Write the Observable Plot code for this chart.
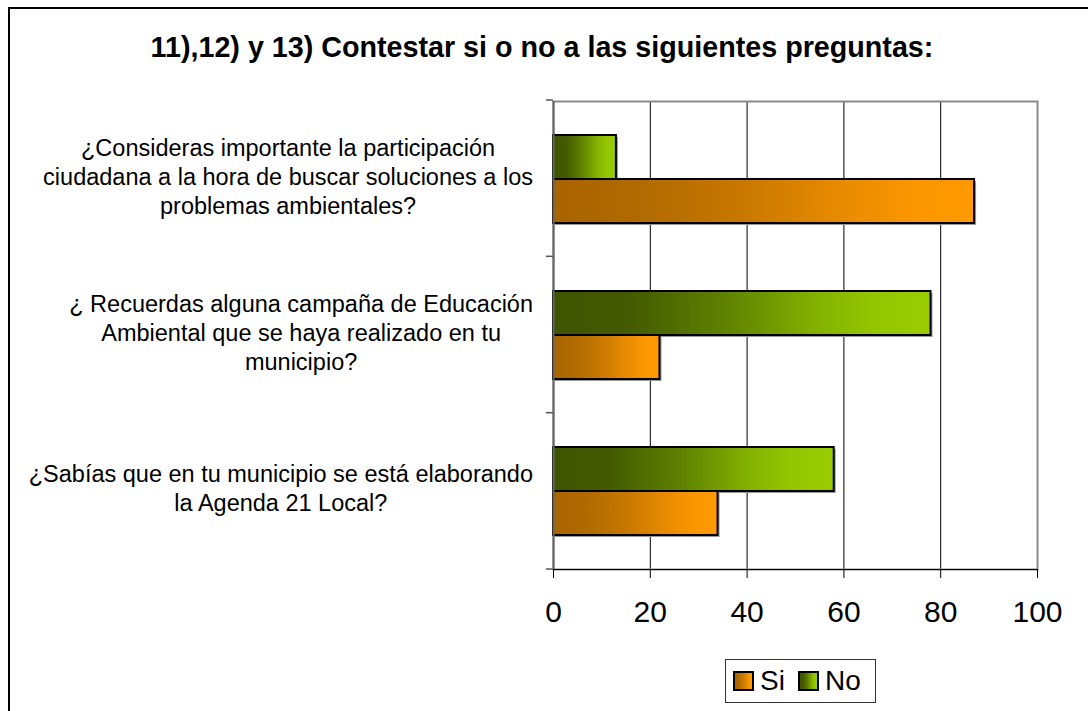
<!DOCTYPE html>
<html>
<head>
<meta charset="utf-8">
<script src="https://cdn.jsdelivr.net/npm/d3@7"></script>
<script src="https://cdn.jsdelivr.net/npm/@observablehq/plot@0.6"></script>
<style>
  body { margin: 0; background: #fff; font-family: "Liberation Sans", Arial, sans-serif; }
  #wrap { position: relative; width: 1088px; height: 711px; overflow: hidden; }
  #border { position: absolute; left: 8px; top: 7px; width: 1100px; height: 720px; border: 2px solid #000; box-sizing: border-box; }
  #title { position: absolute; left: 6px; width: 1072px; top: 31px; line-height: 32px; text-align: center; font-weight: bold; font-size: 28.7px; color: #000; }
  #chart { position: absolute; left: 0; top: 0; }
  #legend { position: absolute; left: 725px; top: 659px; width: 151px; height: 44px; border: 1px solid #333; box-sizing: border-box; display: flex; align-items: center; font-size: 28px; background: #fff; }
  .sw { width: 21px; height: 20px; border: 2px solid #000; box-sizing: border-box; }
</style>
</head>
<body>
<div id="wrap">
  <div id="border"></div>
  <div id="title">11),12) y 13) Contestar si o no a las siguientes preguntas:</div>
  <div id="chart"></div>
  <div id="legend"></div>
</div>
<script>
// ---- data ----
const questions = [
  "¿Consideras importante la participación\nciudadana a la hora de buscar soluciones a los\nproblemas ambientales?",
  "¿ Recuerdas alguna campaña de Educación\nAmbiental que se haya realizado en tu\nmunicipio?",
  "¿Sabías que en tu municipio se está elaborando\nla Agenda 21 Local?"
];
const series = ["No", "Si"];
const legendOrder = ["Si", "No"];
const siValues = [87, 22, 34];
const noValues = [13, 78, 58];
const xTicks = [0, 20, 40, 60, 80, 100];
const gridTicks = [20, 40, 60, 80];

const data = questions.flatMap((q, i) => [
  {q, s: "No", v: noValues[i]},
  {q, s: "Si", v: siValues[i]}
]);

// ---- styles ----
const gradients = {
  Si: [[0, "#A86400"], [0.2, "#B06A00"], [0.45, "#C87800"], [0.7, "#EA8C00"], [0.85, "#FA9600"], [1, "#FF9900"]],
  No: [[0, "#3F5500"], [0.2, "#435A00"], [0.45, "#5E8000"], [0.7, "#84B200"], [0.85, "#94C600"], [1, "#99CC00"]]
};
const labelGap = 20; // px between label block's right edge and the axis

const plot = Plot.plot({
  width: 1088,
  height: 640,
  marginTop: 100,
  marginBottom: 71,
  marginLeft: 553,
  marginRight: 51,
  style: {fontFamily: "'Liberation Sans', Arial, sans-serif", color: "#000", background: "transparent", overflow: "visible"},
  x: {domain: [0, 100]},
  y: {domain: series, paddingInner: 0, paddingOuter: 0.756, axis: null},
  fy: {domain: questions, padding: 0},
  color: {domain: series, range: ["url(#gNo)", "url(#gSi)"]},
  marks: [
    Plot.ruleX(gridTicks, {stroke: "#000", strokeWidth: 1}),
    Plot.frame({facet: "super", stroke: "#8a8a8a", strokeWidth: 2}),
    Plot.barX(data, {x: "v", y: "s", fy: "q", fill: "#999", dx: 2, dy: 2}),
    Plot.barX(data, {x: "v", y: "s", fy: "q", fill: "s", stroke: "#000", strokeWidth: 2}),
    Plot.ruleX([0], {stroke: "#666", strokeWidth: 2}),
    Plot.frame({facet: "super", anchor: "bottom", stroke: "#000", strokeWidth: 1}),
    Plot.axisX({ticks: xTicks, tickSize: 9, tickPadding: 22, fontSize: 30, label: null, stroke: "#000"}),
    Plot.axisFy({anchor: "left", tickSize: 0, tickPadding: 263, textAnchor: "middle", fontSize: 23.5, lineHeight: 1.24, dy: -4, label: null})
  ]
});

// gradient defs
const svg = d3.select(plot);
const defs = svg.insert("defs", ":first-child");
for (const key of Object.keys(gradients)) {
  const g = defs.append("linearGradient").attr("id", "g" + key)
    .attr("x1", "0").attr("x2", "1").attr("y1", "0").attr("y2", "0");
  for (const [o, c] of gradients[key]) g.append("stop").attr("offset", o).attr("stop-color", c);
}

// category boundary ticks on the left axis
const fy = plot.scale("fy");
const xs = plot.scale("x");
const x0 = xs.range[0];
const step = (fy.range[1] - fy.range[0]) / fy.domain.length;
const ticks = d3.range(fy.domain.length + 1).map(i => fy.range[0] + i * step);
svg.append("g").selectAll("line").data(ticks).join("line")
  .attr("x1", x0 - 7).attr("x2", x0).attr("y1", d => d).attr("y2", d => d)
  .attr("stroke", "#555").attr("stroke-width", 1.5);

document.getElementById("chart").appendChild(plot);

// right-align each centred label block against the axis (as in the original)
const svgLeft = plot.getBoundingClientRect().left;
svg.selectAll("text").each(function () {
  const t = this;
  if (!t.querySelector("tspan") || t.textContent.indexOf("¿") < 0) return;
  const r = t.getBoundingClientRect();
  const right = r.right - svgLeft;
  const shift = (x0 - labelGap) - right;
  const prev = t.getAttribute("transform") || "";
  t.setAttribute("transform", (prev + " translate(" + shift + ",0)").trim());
});

// legend
const legend = document.getElementById("legend");
legendOrder.forEach((s, i) => {
  const sw = document.createElement("div");
  sw.className = "sw";
  sw.style.marginLeft = i === 0 ? "7px" : "13px";
  sw.style.background = "linear-gradient(to right, " + gradients[s].map(([o, c]) => c + " " + (o * 100) + "%").join(", ") + ")";
  const t = document.createElement("span");
  t.textContent = s;
  t.style.marginLeft = "6px";
  legend.appendChild(sw);
  legend.appendChild(t);
});
</script>
</body>
</html>
